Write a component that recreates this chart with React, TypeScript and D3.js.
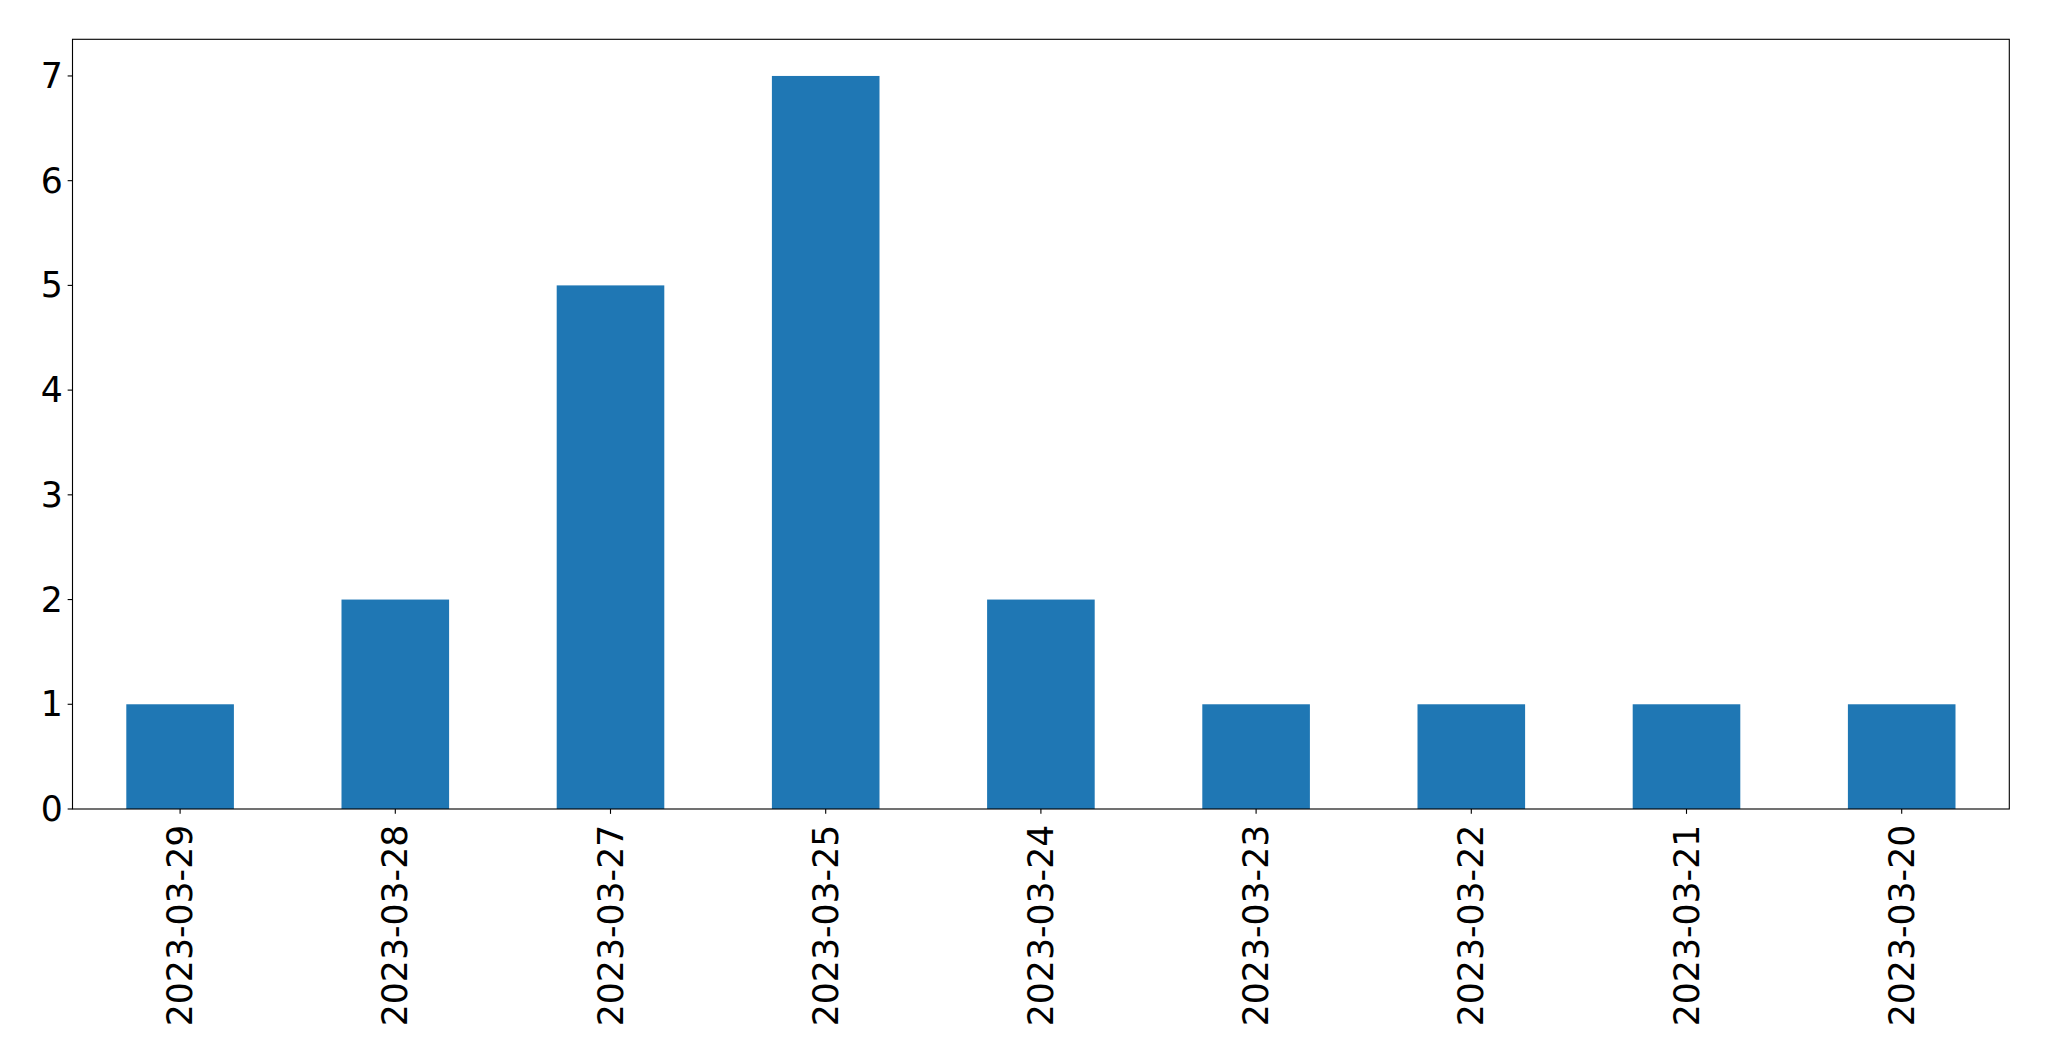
// @ts-nocheck
import { useEffect, useRef } from 'react';
import * as d3 from 'd3';

const dates = [
  '2023-03-29',
  '2023-03-28',
  '2023-03-27',
  '2023-03-25',
  '2023-03-24',
  '2023-03-23',
  '2023-03-22',
  '2023-03-21',
  '2023-03-20',
];
const counts = [1, 2, 5, 7, 2, 1, 1, 1, 1];
const yTicks = [0, 1, 2, 3, 4, 5, 6, 7];

const App = () => {
  const svgRef = useRef();

  useEffect(() => {
    document.body.style.margin = '0';
    d3.select(svgRef.current).selectAll('*').remove();

    const W = 2049;
    const H = 1061;
    const margin = { top: 39.3, right: 2049 - 2009.3, bottom: 1061 - 809, left: 72.5 };
    const width = W - margin.left - margin.right;
    const height = H - margin.top - margin.bottom;
    const font = 'DejaVu Sans, sans-serif';
    const fontSize = 34.7;
    const tickLen = 4.86;
    const pad = 4.86;

    const svg = d3
      .select(svgRef.current)
      .attr('width', W)
      .attr('height', H)
      .append('g')
      .attr('transform', `translate(${margin.left},${margin.top})`);

    // pandas-style bar positions: index i, width 0.5, xlim -0.5..n-0.5
    const x = d3.scaleLinear().domain([-0.5, dates.length - 0.5]).range([0, width]);
    const y = d3.scaleLinear().domain([0, d3.max(counts) * 1.05]).range([height, 0]);

    svg
      .selectAll('rect.bar')
      .data(counts)
      .enter()
      .append('rect')
      .attr('class', 'bar')
      .attr('x', (d, i) => x(i - 0.25))
      .attr('width', (d, i) => x(i + 0.25) - x(i - 0.25))
      .attr('y', d => y(d))
      .attr('height', d => y(0) - y(d))
      .attr('fill', '#1f77b4');

    // Y ticks
    const yg = svg.append('g');
    yTicks.forEach(t => {
      yg.append('line')
        .attr('x1', -tickLen)
        .attr('x2', 0)
        .attr('y1', y(t))
        .attr('y2', y(t))
        .attr('stroke', '#000')
        .attr('stroke-width', 1.11);
      yg.append('text')
        .attr('x', -tickLen - pad)
        .attr('y', y(t))
        .attr('text-anchor', 'end')
        .attr('dominant-baseline', 'central')
        .style('font-family', font)
        .style('font-size', `${fontSize}px`)
        .attr('fill', '#000')
        .text(t);
    });

    // X ticks
    const xg = svg.append('g').attr('transform', `translate(0,${height})`);
    dates.forEach((d, i) => {
      xg.append('line')
        .attr('x1', x(i))
        .attr('x2', x(i))
        .attr('y1', 0)
        .attr('y2', tickLen)
        .attr('stroke', '#000')
        .attr('stroke-width', 1.11);
      xg.append('text')
        .attr('transform', `translate(${x(i)},${tickLen + pad + 6}) rotate(-90)`)
        .attr('text-anchor', 'end')
        .attr('dominant-baseline', 'central')
        .style('font-family', font)
        .style('font-size', `${fontSize}px`)
        .attr('fill', '#000')
        .text(d);
    });

    // Frame
    svg
      .append('rect')
      .attr('x', 0)
      .attr('y', 0)
      .attr('width', width)
      .attr('height', height)
      .attr('fill', 'none')
      .attr('stroke', '#000')
      .attr('stroke-width', 1.11);
  }, []);

  return <svg ref={svgRef} style={{ display: 'block' }}></svg>;
};

export default App;
